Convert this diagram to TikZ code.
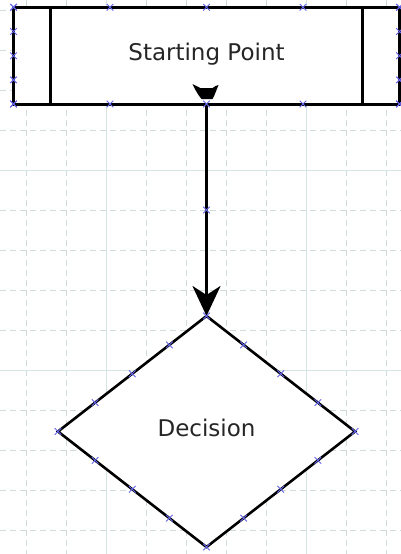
\documentclass[tikz,border=0pt]{standalone}
\usepackage{fontspec}
\setmainfont{DejaVu Sans}
\usepackage{tikz}
\usetikzlibrary{arrows.meta,positioning,calc,shapes.geometric}
\definecolor{gridline}{RGB}{206,220,220}
\definecolor{gridmajor}{RGB}{214,228,228}
\definecolor{cptblue}{RGB}{100,100,235}

\begin{document}
\begin{tikzpicture}[
  x=1pt,y=-1pt,
  every node/.style={font=\fontsize{23}{27}\selectfont,text=black!85},
  proc/.style={draw,line width=3pt,fill=white,minimum width=386pt,
               minimum height=96.7pt,inner sep=0pt,outer sep=0pt,
               text height=17pt,text depth=6.6pt},
  decide/.style={diamond,draw,line width=2.6pt,fill=white,minimum width=297pt,
               minimum height=231pt,inner sep=0pt,outer sep=0pt,
               text height=17pt,text depth=8pt},
  flow/.style={line width=3pt,-{Stealth[length=30pt,width=28pt,inset=9pt]}},
  gridminor/.style={gridline,line width=1pt,dash pattern=on 6pt off 4pt},
  gridmaj/.style={gridmajor,line width=1pt},
  cptline/.style={cptblue,line width=0.9pt},
  cpt/.pic={\draw[cptline] (-3.3,-3.3) -- (3.3,3.3) (-3.3,3.3) -- (3.3,-3.3);},
]
\useasboundingbox (0,0) rectangle (401,554);
\begin{scope}
\clip (0,0) rectangle (401,554);
\foreach \k in {0,...,9}
  \draw[gridminor] (26.7+40*\k,0) -- (26.7+40*\k,554);
\foreach \k in {0,...,13}
  \draw[gridminor] (0,10+40*\k) -- (401,10+40*\k);
\draw[gridmaj] (106.7,0) -- (106.7,554) (306.7,0) -- (306.7,554);
\draw[gridmaj] (0,170) -- (401,170) (0,370) -- (401,370);
\end{scope}

\node[proc] (start) at (206.5,55.7) {Starting Point};
\draw[line width=3pt]
  ([xshift=37pt]start.north west) -- ([xshift=37pt]start.south west)
  ([xshift=-37pt]start.north east) -- ([xshift=-37pt]start.south east);
\fill[shift={(start.south)}] (-14,-20) -- (-10,-18) -- (-6,-16) -- (6,-16)
  -- (9,-18) -- (12,-19) -- (10,-14) -- (8,-9) -- (6,-5) -- (-5,-5)
  -- (-8,-9) -- (-11,-14) -- cycle;

\node[decide] (dec) at (206.5,431.5) {Decision};

\draw[flow] (start.south) -- coordinate[pos=0.5] (mid) (dec.north);

\foreach \f in {0,0.25,0.5,0.75,1} {
  \pic at ($(start.north west)!\f!(start.north east)$) {cpt};
  \pic at ($(start.south west)!\f!(start.south east)$) {cpt};
  \pic at ($(start.north west)!\f!(start.south west)$) {cpt};
  \pic at ($(start.north east)!\f!(start.south east)$) {cpt};
}
\foreach \a/\b in {north/east,east/south,south/west,west/north}
  \foreach \f in {0,0.25,0.5,0.75}
    \pic at ($(dec.\a)!\f!(dec.\b)$) {cpt};
\pic at (mid) {cpt};
\end{tikzpicture}
\end{document}
